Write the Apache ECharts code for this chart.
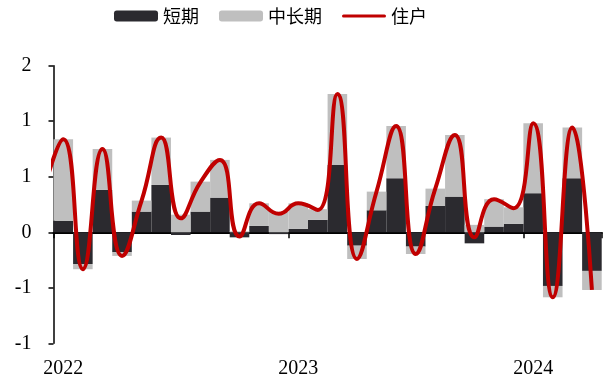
<!DOCTYPE html>
<html>
<head>
<meta charset="utf-8">
<script src="https://cdn.jsdelivr.net/npm/echarts@6/dist/echarts.min.js"></script>
<style>
  html, body { margin: 0; padding: 0; background: #fff; }
  #chart { width: 613px; height: 383px; }
</style>
</head>
<body>
<div id="chart"></div>
<script>
// Monthly categories, Jan 2022 – Apr 2024
const months = [
  '2022-01','2022-02','2022-03','2022-04','2022-05','2022-06','2022-07','2022-08','2022-09','2022-10','2022-11','2022-12',
  '2023-01','2023-02','2023-03','2023-04','2023-05','2023-06','2023-07','2023-08','2023-09','2023-10','2023-11','2023-12',
  '2024-01','2024-02','2024-03','2024-04'
];

// 短期 (short-term) component
const shortTerm = [
  0.139, -0.381, 0.508, -0.24, 0.248, 0.568, -0.033, 0.248, 0.416, -0.061, 0.076, -0.022,
  0.04, 0.148, 0.809, -0.161, 0.264, 0.649, -0.172, 0.316, 0.428, -0.133, 0.068, 0.1,
  0.469, -0.644, 0.649, -0.464
];

// 中长期 (medium/long-term) component
const longTerm = [
  0.978, -0.063, 0.492, -0.044, 0.132, 0.569, 0.211, 0.36, 0.453, 0.011, 0.272, 0.244,
  0.308, 0.129, 0.852, -0.16, 0.224, 0.628, -0.089, 0.208, 0.741, 0.089, 0.329, 0.2,
  0.84, -0.137, 0.608, -0.229
];

// 住户 (households) total; householdStart is Dec 2021, clipped at the plot edge
const householdStart = 0.5;
const household = [
  1.117, -0.444, 1.0, -0.284, 0.38, 1.137, 0.167, 0.6, 0.869, -0.05, 0.348, 0.222,
  0.348, 0.267, 1.661, -0.321, 0.489, 1.277, -0.261, 0.523, 1.169, -0.061, 0.397, 0.289,
  1.309, -0.781, 1.257, -0.693
];

// Y tick values (steps of 2/3) and their printed labels
const yTicks = [-4 / 3, -2 / 3, 0, 2 / 3, 4 / 3, 2];
const yTickLabels = ['-1', '-1', '0', '1', '1', '2'];

const householdPoints = [[-1, householdStart]].concat(household.map((v, i) => [i, v]));

const serif = 'Liberation Serif';
const chart = echarts.init(document.getElementById('chart'), null, { renderer: 'canvas' });

chart.setOption({
  animation: false,
  backgroundColor: '#ffffff',
  legend: {
    left: 114,
    top: 7,
    padding: 0,
    itemWidth: 44,
    itemHeight: 11,
    itemGap: 20,
    textStyle: { fontFamily: 'Noto Sans CJK SC', fontSize: 18, color: '#000' },
    data: [
      { name: '短期' },
      { name: '中长期' },
      { name: '住户', icon: 'path://M1.5,0 L42.5,0 A1.5,1.5 0 0 1 42.5,3 L1.5,3 A1.5,1.5 0 0 1 1.5,0 Z' }
    ]
  },
  grid: { left: 53.5, right: 11.3, top: 65.7, bottom: 39.7, containLabel: false },
  xAxis: [
    {
      // zero line with year-boundary ticks
      type: 'category',
      data: months,
      position: 'bottom',
      boundaryGap: true,
      axisLine: { show: true, onZero: true, lineStyle: { color: '#000', width: 2 } },
      axisTick: { show: true, length: 6, interval: (i) => i % 12 === 0, lineStyle: { color: '#000', width: 1.5 } },
      axisLabel: { show: false },
      splitLine: { show: false }
    },
    {
      // year labels along the bottom edge
      type: 'category',
      data: months,
      position: 'bottom',
      boundaryGap: true,
      axisLine: { show: false, onZero: false },
      axisTick: { show: false },
      axisLabel: {
        show: true,
        interval: (i) => i % 12 === 0,
        formatter: (v) => v.slice(0, 4),
        fontFamily: serif,
        fontSize: 20,
        color: '#000',
        margin: 15
      },
      splitLine: { show: false }
    },
    {
      // numeric month index for the smoothed line
      type: 'value',
      min: -0.5,
      max: 27.5,
      show: false
    }
  ],
  yAxis: {
    type: 'value',
    min: -4 / 3,
    max: 2,
    interval: 2 / 3,
    axisLine: { show: true, onZero: false, lineStyle: { color: '#000', width: 1.5 } },
    axisTick: { show: true, length: 5, lineStyle: { color: '#000', width: 1.5 } },
    splitLine: { show: false },
    axisLabel: {
      fontFamily: serif,
      fontSize: 20,
      color: '#000',
      margin: 22,
      formatter: (v) => {
        const k = yTicks.findIndex((t) => Math.abs(t - v) < 1e-6);
        return k >= 0 ? yTickLabels[k] : '';
      }
    }
  },
  series: [
    {
      name: '短期',
      type: 'bar',
      stack: 'total',
      xAxisIndex: 0,
      barCategoryGap: '0%',
      itemStyle: { color: '#2b2a2f' },
      data: shortTerm
    },
    {
      name: '中长期',
      type: 'bar',
      stack: 'total',
      xAxisIndex: 0,
      barCategoryGap: '0%',
      itemStyle: { color: '#bfbfbf' },
      data: longTerm
    },
    {
      name: '住户',
      type: 'line',
      xAxisIndex: 2,
      smooth: true,
      symbol: 'none',
      clip: true,
      lineStyle: { color: '#c00000', width: 4 },
      itemStyle: { color: '#c00000' },
      data: householdPoints,
      z: 5
    }
  ]
});
</script>
</body>
</html>
